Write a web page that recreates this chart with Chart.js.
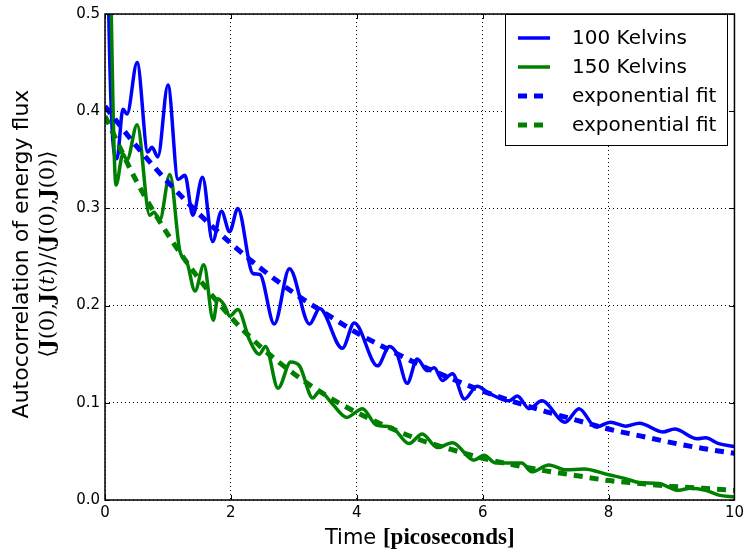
<!DOCTYPE html>
<html>
<head>
<meta charset="utf-8">
<script src="https://cdn.jsdelivr.net/npm/chart.js@4.4.0/dist/chart.umd.min.js"></script>
<style>
  html, body { margin: 0; padding: 0; background: #fff; }
</style>
</head>
<body>
<canvas id="ac_chart" width="748" height="549"></canvas>
<script>
// time axis (picoseconds) and autocorrelation values
var blueTime = [0, 0.06, 0.19, 0.285, 0.35, 0.51, 0.68, 0.745, 0.84, 1.0, 1.16, 1.27, 1.395, 1.55, 1.71,
    1.85, 1.98, 2.11, 2.35, 2.46, 2.69, 2.93, 3.25, 3.41, 3.77, 3.96, 4.33, 4.52, 4.64, 4.80, 4.96, 5.12,
    5.23, 5.36, 5.52, 5.71, 5.91, 6.10, 6.42, 6.55, 6.74, 6.94, 7.31, 7.53, 7.80, 8.03, 8.27, 8.49, 8.86,
    9.05, 9.41, 9.54, 9.75, 10.0];
var blueValue = [1.0, 0.50, 0.351, 0.402, 0.397, 0.450, 0.358, 0.363, 0.353, 0.427, 0.330, 0.334, 0.293, 0.332, 0.266,
    0.297, 0.276, 0.300, 0.233, 0.232, 0.181, 0.238, 0.181, 0.197, 0.156, 0.182, 0.138, 0.158, 0.150, 0.120, 0.145, 0.133,
    0.136, 0.123, 0.130, 0.104, 0.117, 0.110, 0.102, 0.107, 0.094, 0.102, 0.080, 0.094, 0.075, 0.080, 0.076, 0.079, 0.070,
    0.073, 0.063, 0.064, 0.058, 0.055];

var greenTime = [0, 0.1, 0.175, 0.285, 0.35, 0.51, 0.71, 0.78, 0.87, 1.03, 1.19, 1.3, 1.43, 1.57, 1.72,
    1.79, 1.9, 1.98, 2.11, 2.3, 2.45, 2.55, 2.75, 2.95, 3.09, 3.30, 3.41, 3.61, 3.84, 4.09, 4.31, 4.55,
    4.83, 5.04, 5.28, 5.52, 5.86, 6.02, 6.21, 6.62, 6.78, 7.05, 7.32, 7.61, 8.0, 8.27, 8.48, 8.80, 9.11,
    9.30, 9.54, 9.75, 10.0];
var greenValue = [1.0, 0.50, 0.324, 0.356, 0.350, 0.386, 0.293, 0.296, 0.288, 0.335, 0.256, 0.245, 0.215, 0.242, 0.185,
    0.207, 0.200, 0.189, 0.196, 0.164, 0.150, 0.158, 0.115, 0.142, 0.138, 0.105, 0.112, 0.099, 0.085, 0.094, 0.077, 0.075,
    0.058, 0.068, 0.054, 0.059, 0.041, 0.046, 0.038, 0.038, 0.029, 0.036, 0.031, 0.032, 0.026, 0.022, 0.018, 0.017, 0.010,
    0.012, 0.010, 0.005, 0.003];

// exponential fits
var fitTime = [0, 0.5, 1, 1.5, 2, 2.5, 3, 3.5, 4, 4.5, 5, 5.5, 6, 6.5, 7, 7.5, 8, 8.5, 9, 9.5, 10];
var blueFit = [0.405, 0.364, 0.327, 0.294, 0.264, 0.237, 0.213, 0.192, 0.172, 0.155, 0.139, 0.125, 0.112,
    0.101, 0.091, 0.082, 0.073, 0.066, 0.059, 0.053, 0.048];
var greenFit = [0.395, 0.328, 0.273, 0.227, 0.188, 0.156, 0.130, 0.108, 0.090, 0.075, 0.062, 0.052, 0.043,
    0.036, 0.030, 0.025, 0.020, 0.017, 0.014, 0.012, 0.010];

var xTicks = [0, 2, 4, 6, 8, 10];
var yTicks = [0.0, 0.1, 0.2, 0.3, 0.4, 0.5];

function pts(xs, ys) {
    return xs.map(function (x, i) { return { x: x, y: ys[i] }; });
}

var BLUE = "#0000ff";
var GREEN = "#008000";
var SANS = "'DejaVu Sans', sans-serif";
var SERIF = "'Liberation Serif', serif";
var MATH = "'DejaVu Serif', serif";

// draws a line of text made of pieces with different fonts, centred on cx
function drawRich(ctx, parts, cx, y) {
    var total = 0;
    parts.forEach(function (p) { ctx.font = p[1]; total += ctx.measureText(p[0]).width; });
    var x = cx - total / 2;
    parts.forEach(function (p) {
        ctx.font = p[1];
        ctx.fillText(p[0], x, y);
        x += ctx.measureText(p[0]).width;
    });
}

var decorations = {
    id: "decorations",
    afterDraw: function (chart) {
        var ctx = chart.ctx;
        var a = chart.chartArea;
        var xs = chart.scales.x, ys = chart.scales.y;
        ctx.save();
        ctx.strokeStyle = "#000";
        ctx.fillStyle = "#000";

        // inward tick marks on all four sides
        ctx.lineWidth = 1;
        ctx.beginPath();
        xTicks.forEach(function (t) {
            var px = Math.round(xs.getPixelForValue(t)) + 0.5;
            ctx.moveTo(px, a.bottom); ctx.lineTo(px, a.bottom - 5);
            ctx.moveTo(px, a.top); ctx.lineTo(px, a.top + 5);
        });
        yTicks.forEach(function (t) {
            var py = Math.round(ys.getPixelForValue(t)) + 0.5;
            ctx.moveTo(a.left, py); ctx.lineTo(a.left + 5, py);
            ctx.moveTo(a.right, py); ctx.lineTo(a.right - 5, py);
        });
        ctx.stroke();

        // frame
        ctx.lineWidth = 1.5;
        ctx.strokeRect(a.left, a.top, a.right - a.left, a.bottom - a.top);

        // legend inside the plot
        var box = { x: 505.5, y: 14.5, w: 222, h: 131 };
        ctx.fillStyle = "#fff";
        ctx.fillRect(box.x, box.y, box.w, box.h);
        ctx.lineWidth = 1;
        ctx.strokeRect(box.x, box.y, box.w, box.h);
        var rows = [38, 67, 96, 125];
        chart.data.datasets.forEach(function (ds, i) {
            var y = rows[i];
            ctx.beginPath();
            ctx.strokeStyle = ds.borderColor;
            ctx.lineWidth = ds.borderWidth;
            ctx.setLineDash(ds.borderDash || []);
            ctx.lineCap = "butt";
            ctx.moveTo(518, y);
            ctx.lineTo(550, y);
            ctx.stroke();
            ctx.setLineDash([]);
            ctx.fillStyle = "#000";
            ctx.font = "20px " + SANS;
            ctx.textBaseline = "middle";
            ctx.textAlign = "left";
            ctx.fillText(ds.label, 572, y + 1);
        });

        // axis titles
        ctx.fillStyle = "#000";
        ctx.textBaseline = "alphabetic";
        ctx.textAlign = "left";
        drawRich(ctx, [["Time ", "21px " + SANS], ["[picoseconds]", "bold 23px " + SERIF]],
            (a.left + a.right) / 2, 544);

        ctx.translate(0, (a.top + a.bottom) / 2 - 3);
        ctx.rotate(-Math.PI / 2);
        drawRich(ctx, [["Autocorrelation of energy flux", "22px " + SANS]], 0, 28);
        var b = "bold 21px " + MATH, r = "21px " + MATH, it = "italic 21px " + MATH;
        drawRich(ctx, [
            ["\u27E8", r], ["J", b], ["(0),", r], ["J", b], ["(", r], ["t", it], [")", r], ["\u27E9/\u27E8", r],
            ["J", b], ["(0),", r], ["J", b], ["(0)", r], ["\u27E9", r]
        ], 0, 54);
        ctx.restore();
    }
};

var acChart = new Chart("ac_chart", {
    type: "line",
    data: {
        datasets: [
            {
                label: "100 Kelvins",
                data: pts(blueTime, blueValue),
                borderColor: BLUE,
                borderWidth: 3.5,
                order: 4,
            },
            {
                label: "150 Kelvins",
                data: pts(greenTime, greenValue),
                borderColor: GREEN,
                borderWidth: 3.5,
                order: 3,
            },
            {
                label: "exponential fit",
                data: pts(fitTime, blueFit),
                borderColor: BLUE,
                borderWidth: 5,
                borderDash: [9, 7],
                order: 2,
            },
            {
                label: "exponential fit",
                data: pts(fitTime, greenFit),
                borderColor: GREEN,
                borderWidth: 5,
                borderDash: [9, 7],
                order: 1,
            },
        ],
    },
    options: {
        responsive: false,
        animation: false,
        devicePixelRatio: 1,
        layout: { padding: { top: 11, right: 12, left: 0, bottom: 0 } },
        elements: {
            point: { radius: 0 },
            line: { cubicInterpolationMode: "monotone", fill: false },
        },
        datasets: { line: { clip: 0 } },
        plugins: {
            legend: { display: false },
            tooltip: { enabled: false },
        },
        scales: {
            x: {
                type: "linear",
                min: 0,
                max: 10,
                afterFit: function (s) { s.height = 49; },
                afterBuildTicks: function (s) { s.ticks = xTicks.map(function (v) { return { value: v }; }); },
                ticks: {
                    color: "#000",
                    padding: 4,
                    maxRotation: 0,
                    font: { family: "DejaVu Sans", size: 15 },
                },
                grid: { color: "#000", lineWidth: 1, drawTicks: false },
                border: { display: false, dash: [1, 3] },
            },
            y: {
                type: "linear",
                min: 0,
                max: 0.5,
                afterFit: function (s) { s.width = 105; },
                afterBuildTicks: function (s) { s.ticks = yTicks.map(function (v) { return { value: v }; }); },
                ticks: {
                    color: "#000",
                    padding: 5,
                    font: { family: "DejaVu Sans", size: 15 },
                    callback: function (v) { return Number(v).toFixed(1); },
                },
                grid: { color: "#000", lineWidth: 1, drawTicks: false },
                border: { display: false, dash: [1, 3] },
            },
        },
    },
    plugins: [decorations],
});
</script>
</body>
</html>
